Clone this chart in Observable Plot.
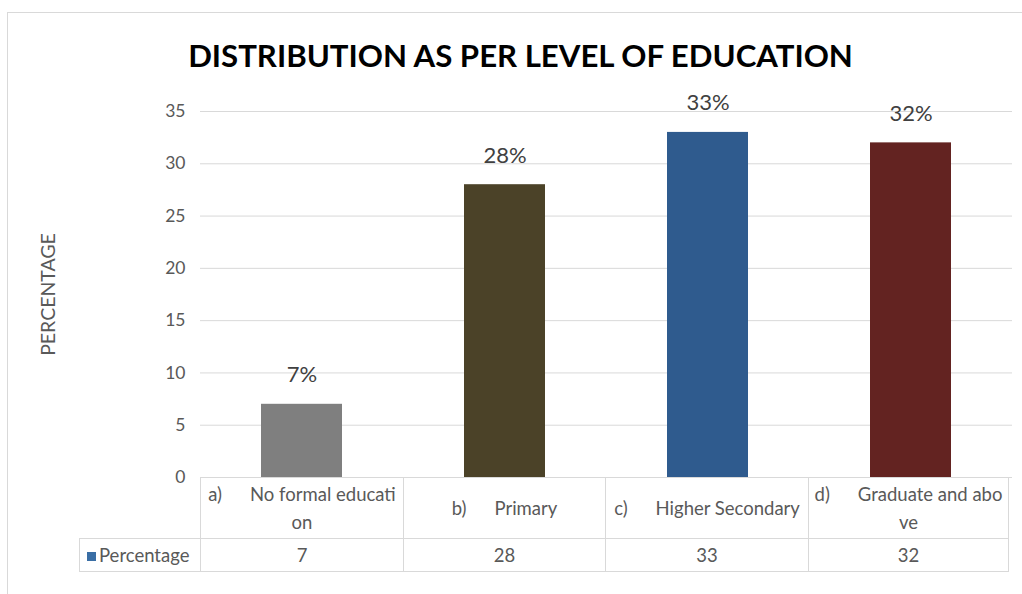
<!DOCTYPE html>
<html>
<head>
<meta charset="utf-8">
<script src="https://cdn.jsdelivr.net/npm/d3@7"></script>
<script src="https://cdn.jsdelivr.net/npm/@observablehq/plot@0.6"></script>
<style>
  html, body { margin: 0; padding: 0; background: #fff; }
  body { width: 1022px; height: 594px; position: relative; overflow: hidden; font-family: Lato, "Open Sans", sans-serif; color: #595959; }
  #frame { position: absolute; left: 7px; top: 12px; width: 1030px; height: 600px; border-left: 1px solid #d9d9d9; border-top: 1px solid #d9d9d9; }
  #title { position: absolute; top: 34px; left: 0; width: 1041px; text-align: center; font-weight: 700; color: #000; font-size: 33px; white-space: nowrap; line-height: 42px; }
  #chart { position: absolute; left: 0; top: 0; }
  table { position: absolute; left: 79px; top: 477px; border-collapse: collapse; table-layout: fixed; font-size: 18.5px; color: #595959; }
  td { border: 1px solid #d9d9d9; padding: 0; text-align: center; vertical-align: middle; white-space: nowrap; overflow: hidden; }
  td.blank { border: none; }
  tr.cats td { height: 60px; line-height: 28px; }
  tr.vals td { height: 32px; }
  .pre { display: inline-block; margin-right: 28px; }
  .sw { display: inline-block; width: 9px; height: 9px; background: #3a6ea5; margin-right: 3px; vertical-align: 1px; }
</style>
</head>
<body>
<div id="frame"></div>
<div id="title"></div>
<div id="chart"></div>
<script>
const titleText = "DISTRIBUTION AS PER LEVEL OF EDUCATION";
const yLabel = "PERCENTAGE";
const seriesName = "Percentage";
const categories = ["a) No formal education", "b) Primary", "c) Higher Secondary", "d) Graduate and above"];
const categoryPrefixes = ["a)", "b)", "c)", "d)"];
const categoryLines = [["No formal educati", "on"], ["Primary"], ["Higher Secondary"], ["Graduate and abo", "ve"]];
const values = [7, 28, 33, 32];
const barColors = ["#7f7f7f", "#4b4228", "#2f5b8e", "#632321"];
const yTicks = [0, 5, 10, 15, 20, 25, 30, 35];

const data = categories.map((c, i) => ({category: c, value: values[i], color: barColors[i]}));

// fit title width
(function () {
  const t = document.getElementById("title");
  const span = document.createElement("span");
  span.textContent = titleText;
  t.appendChild(span);
  const w = span.getBoundingClientRect().width;
  const fs = parseFloat(getComputedStyle(t).fontSize);
  t.style.fontSize = (fs * 665 / w) + "px";
})();

const chart = Plot.plot({
  width: 1022,
  height: 495,
  marginTop: 111,
  marginBottom: 18,
  marginLeft: 200,
  marginRight: 10,
  style: {fontFamily: "Lato, 'Open Sans', sans-serif", background: "transparent"},
  x: {domain: categories, paddingInner: 0.6, paddingOuter: 0.3, axis: null},
  y: {domain: [0, 35], ticks: yTicks, label: null},
  marks: [
    Plot.gridY(yTicks, {stroke: "#d9d9d9", strokeOpacity: 1, strokeWidth: 1}),
    Plot.axisY(yTicks, {tickSize: 0, tickPadding: 15, fontSize: 17.5, fill: "#595959", label: null}),
    Plot.text([yLabel], {frameAnchor: "left", text: d => d, rotate: -90, textAnchor: "middle", dx: -152, fontSize: 19.5, fill: "#595959"}),
    Plot.barY(data, {x: "category", y: "value", fill: "color"}),
    Plot.text(data, {x: "category", y: "value", text: d => d.value + "%", dy: -29, fontSize: 22, fill: "#404040"})
  ]
});
document.getElementById("chart").appendChild(chart);

// data table below the chart
const colW = [121, 203, 202, 203, 200];
const table = document.createElement("table");
const cg = document.createElement("colgroup");
colW.forEach(w => { const c = document.createElement("col"); c.style.width = w + "px"; cg.appendChild(c); });
table.appendChild(cg);
const tr1 = document.createElement("tr"); tr1.className = "cats";
const blank = document.createElement("td"); blank.className = "blank"; tr1.appendChild(blank);
categoryLines.forEach((lines, i) => {
  const td = document.createElement("td");
  lines.forEach((ln, j) => {
    const div = document.createElement("div");
    if (j === 0) {
      const p = document.createElement("span"); p.className = "pre"; p.textContent = categoryPrefixes[i];
      div.appendChild(p);
    }
    div.appendChild(document.createTextNode(ln));
    td.appendChild(div);
  });
  tr1.appendChild(td);
});
table.appendChild(tr1);
const tr2 = document.createElement("tr"); tr2.className = "vals";
const leg = document.createElement("td"); leg.style.textAlign = "left"; leg.style.paddingLeft = "7px";
const sw = document.createElement("span"); sw.className = "sw"; leg.appendChild(sw);
leg.appendChild(document.createTextNode(seriesName));
tr2.appendChild(leg);
values.forEach(v => { const td = document.createElement("td"); td.textContent = v; tr2.appendChild(td); });
table.appendChild(tr2);
document.body.appendChild(table);
</script>
</body>
</html>
